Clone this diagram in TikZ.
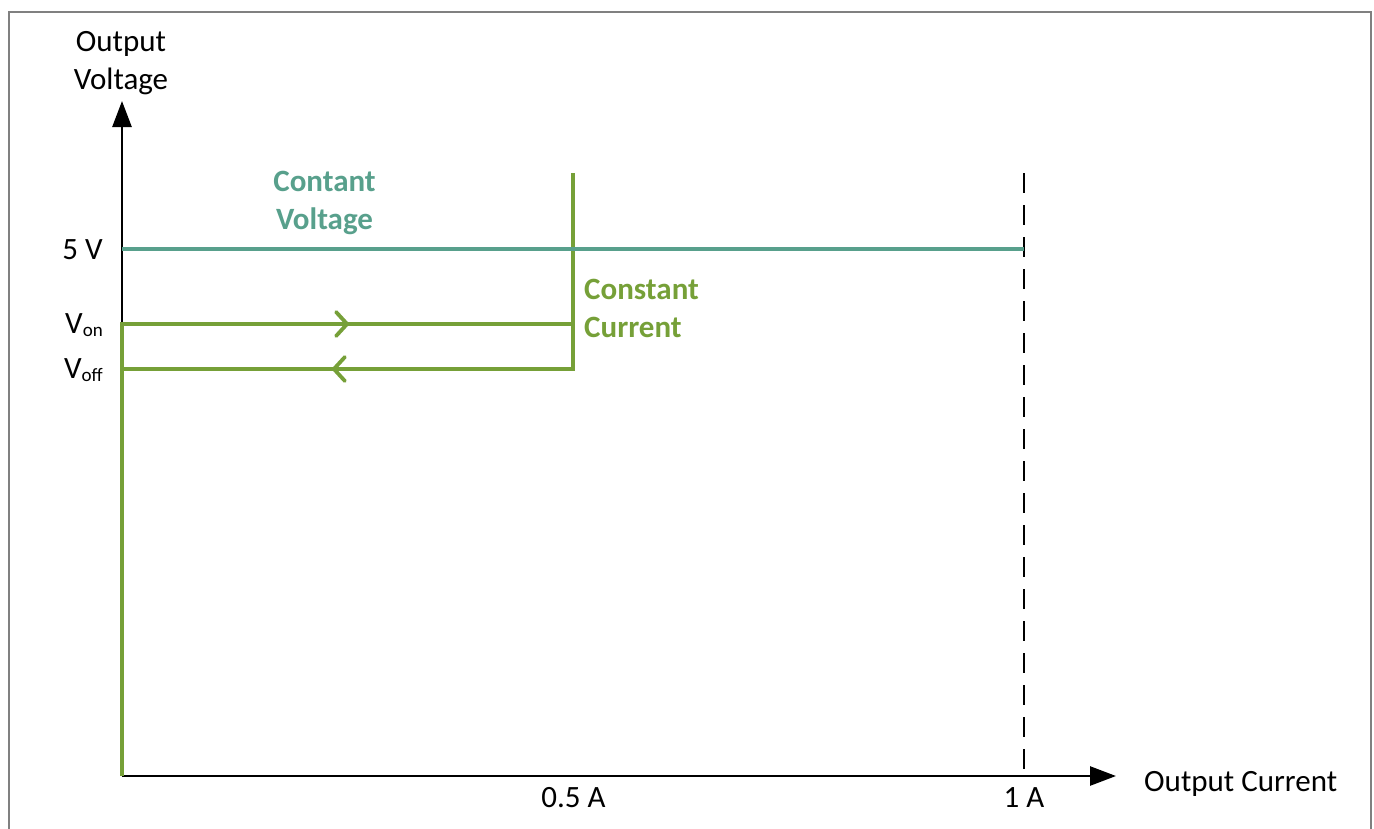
\documentclass[tikz,border=0pt]{standalone}
\usepackage{fontspec}
\setmainfont{Carlito}
\usetikzlibrary{arrows.meta}
\definecolor{cvteal}{RGB}{88,160,140}
\definecolor{ccgreen}{RGB}{118,160,56}
\definecolor{framegray}{RGB}{128,128,128}
\tikzset{
  lbl/.style={font=\fontsize{31}{38}\selectfont, inner sep=0pt, text=black},
  boldlbl/.style={font=\fontsize{31}{38}\selectfont\bfseries, inner sep=0pt},
  axisline/.style={line width=2.6pt, draw=black, -{Triangle[length=26pt,width=19pt]}},
  cvline/.style={line width=3.2pt, draw=cvteal},
  ccline/.style={line width=3.4pt, draw=ccgreen, line join=miter},
  flowtip/.style={line width=3.8pt, draw=ccgreen, line cap=round,
    -{Straight Barb[length=11pt,width=24pt,round]}},
  limitline/.style={line width=2.6pt, draw=black, dash pattern=on 20pt off 12pt},
  framebox/.style={draw=framegray, line width=2pt}
}
\newcommand{\subtxt}[1]{\raisebox{-3pt}{\fontsize{19}{19}\selectfont #1}}
\begin{document}
\begin{tikzpicture}[x=1pt,y=-1pt]
  \useasboundingbox (0,0) rectangle (1374,828);
  % outer frame (open at the bottom edge)
  \draw[framebox] (9,850) -- (9,11.5) -- (1370.5,11.5) -- (1370.5,850);

  % key points
  \coordinate (O) at (122,776);
  \coordinate (ytip) at (122,101);
  \coordinate (xtip) at (1116,776);
  \coordinate (cvL) at (122,249);
  \coordinate (cvR) at (1024,249);
  \coordinate (onL) at (122,324);
  \coordinate (onR) at (573,324);
  \coordinate (offL) at (122,369);
  \coordinate (offR) at (573,369);
  \coordinate (ccTop) at (573,173);
  \coordinate (limTop) at (1024,173);
  \coordinate (limBot) at (1024,776);
  \coordinate (onA) at (272,324);
  \coordinate (onB) at (349,324);
  \coordinate (offA) at (423,369);
  \coordinate (offB) at (332,369);

  % axes
  \draw[axisline] (O) -- (ytip);
  \draw[axisline] (O) -- (xtip);

  % current limit at 1 A
  \draw[limitline] (limTop) -- (limBot);

  % constant-current branch with hysteresis
  \draw[ccline] (O) -- (onL) -- (onR);
  \draw[ccline] (ccTop) -- (offR) -- (offL);
  \draw[flowtip] (onA) -- (onB);
  \draw[flowtip] (offA) -- (offB);

  % constant-voltage line
  \draw[cvline] (cvL) -- (cvR);

  % labels
  \node[lbl, align=center] (ylabel) at (121,63.5) {Output\\Voltage};
  \node[lbl, anchor=base west] (xlabel) at (1144,791) {Output Current};
  \node[lbl, anchor=base] (half) at (573.5,807) {0.5 A};
  \node[lbl, anchor=base] (one) at (1024,807) {1 A};
  \node[lbl, anchor=base east] (five) at (103,259) {5 V};
  \node[lbl, anchor=base east] (von) at (103,333) {V\subtxt{on}};
  \node[lbl, anchor=base east] (voff) at (103,378) {V\subtxt{off}};
  \node[boldlbl, text=cvteal, align=center] (cvlabel) at (324.5,203) {Contant\\Voltage};
  \node[boldlbl, text=ccgreen, align=left, anchor=west] (cclabel) at (584,308) {Constant\\Current};
\end{tikzpicture}
\end{document}
